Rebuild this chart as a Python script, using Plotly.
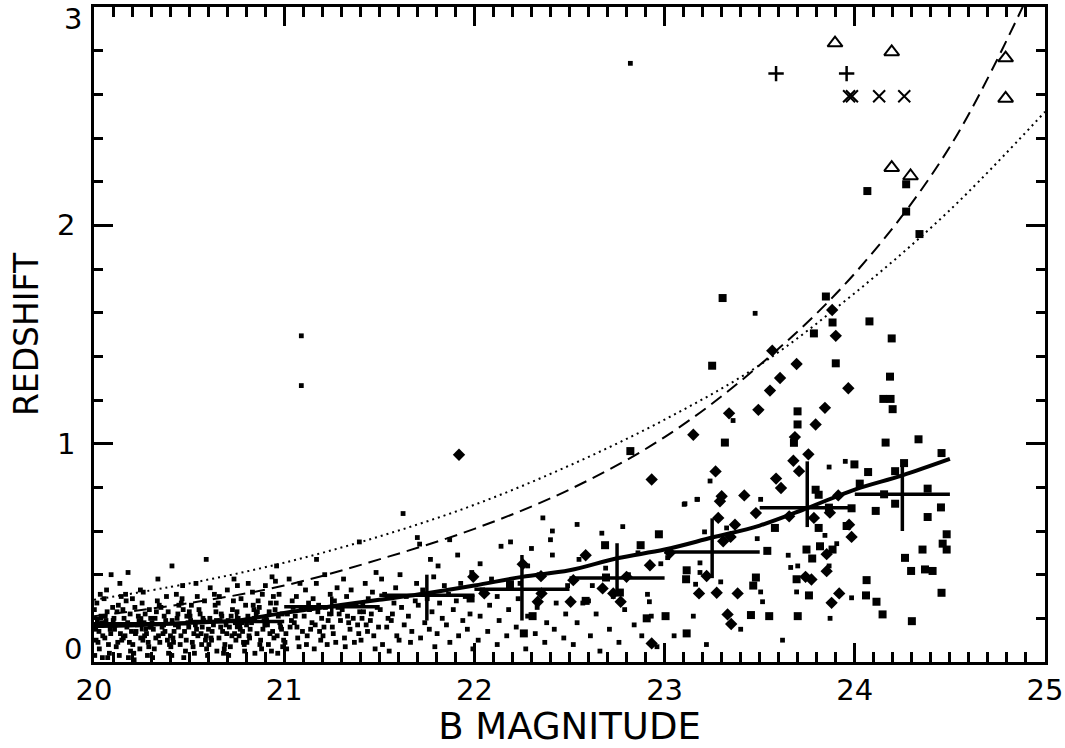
import plotly.graph_objects as go

# ---------------- data ----------------
# small dots: bright part 20-21 mag
dots_bright = [
(20.004,0.03),(20.021,0.09),(20.009,0.15),(20.037,0.21),(20.015,0.27),(20.046,0.12),(20.028,0.06),(20.041,0.18),(20.002,0.24),(20.033,0.31),(20.018,0.19),(20.044,0.02),(20.011,0.10),(20.026,0.14),
(20.081,0.04),(20.057,0.11),(20.094,0.17),(20.069,0.23),(20.076,0.08),(20.053,0.29),(20.088,0.13),(20.063,0.19),(20.098,0.25),(20.072,0.02),(20.059,0.21),(20.085,0.15),(20.066,0.33),
(20.117,0.07),(20.139,0.13),(20.105,0.20),(20.128,0.26),(20.146,0.10),(20.112,0.17),(20.133,0.03),(20.121,0.23),(20.108,0.15),(20.143,0.30),(20.125,0.09),(20.101,0.19),(20.136,0.36),
(20.192,0.05),(20.163,0.12),(20.177,0.18),(20.152,0.24),(20.186,0.09),(20.169,0.28),(20.197,0.14),(20.158,0.20),(20.181,0.02),(20.173,0.16),(20.190,0.22),(20.166,0.31),(20.154,0.11),(20.179,0.41),
(20.204,0.08),(20.221,0.14),(20.209,0.04),(20.237,0.19),(20.215,0.25),(20.246,0.11),(20.228,0.17),(20.241,0.06),(20.202,0.29),(20.233,0.21),(20.218,0.13),(20.244,0.33),(20.211,0.01),
(20.281,0.03),(20.257,0.10),(20.294,0.16),(20.269,0.22),(20.276,0.13),(20.253,0.27),(20.288,0.07),(20.263,0.18),(20.298,0.20),(20.272,0.15),(20.259,0.32),(20.285,0.09),(20.266,0.12),(20.291,0.24),
(20.317,0.06),(20.339,0.12),(20.305,0.18),(20.328,0.23),(20.346,0.09),(20.312,0.15),(20.333,0.28),(20.321,0.20),(20.308,0.02),(20.343,0.26),(20.325,0.11),(20.301,0.16),(20.336,0.38),
(20.392,0.04),(20.363,0.13),(20.377,0.19),(20.352,0.25),(20.386,0.10),(20.369,0.21),(20.397,0.08),(20.358,0.16),(20.381,0.30),(20.373,0.14),(20.390,0.23),(20.366,0.17),(20.410,0.44),
(20.404,0.07),(20.421,0.14),(20.409,0.03),(20.437,0.20),(20.415,0.11),(20.446,0.26),(20.428,0.17),(20.441,0.22),(20.402,0.12),(20.433,0.31),(20.418,0.09),(20.444,0.16),(20.411,0.19),
(20.481,0.05),(20.457,0.12),(20.494,0.18),(20.469,0.24),(20.476,0.14),(20.453,0.08),(20.488,0.21),(20.463,0.29),(20.498,0.16),(20.472,0.02),(20.459,0.27),(20.485,0.10),(20.466,0.35),
(20.517,0.09),(20.539,0.15),(20.505,0.21),(20.528,0.04),(20.546,0.12),(20.512,0.26),(20.533,0.17),(20.521,0.07),(20.508,0.19),(20.543,0.30),(20.525,0.13),(20.501,0.23),(20.536,0.36),
(20.592,0.06),(20.563,0.13),(20.577,0.19),(20.552,0.24),(20.586,0.10),(20.569,0.16),(20.597,0.03),(20.558,0.22),(20.581,0.28),(20.573,0.20),(20.590,0.12),(20.590,0.47),(20.566,0.08),
(20.604,0.08),(20.621,0.14),(20.609,0.20),(20.637,0.26),(20.615,0.11),(20.646,0.05),(20.628,0.17),(20.641,0.23),(20.602,0.15),(20.633,0.31),(20.618,0.10),(20.644,0.19),(20.611,0.34),
(20.681,0.04),(20.657,0.11),(20.694,0.17),(20.669,0.22),(20.676,0.14),(20.653,0.27),(20.688,0.08),(20.663,0.19),(20.698,0.13),(20.672,0.21),(20.659,0.30),(20.685,0.06),(20.666,0.16),
(20.717,0.07),(20.739,0.13),(20.705,0.19),(20.728,0.24),(20.746,0.10),(20.712,0.16),(20.733,0.28),(20.721,0.21),(20.708,0.03),(20.743,0.18),(20.725,0.12),(20.701,0.33),(20.736,0.38),
(20.792,0.05),(20.763,0.12),(20.777,0.18),(20.752,0.23),(20.786,0.09),(20.769,0.15),(20.797,0.26),(20.758,0.20),(20.781,0.14),(20.773,0.29),(20.790,0.08),(20.766,0.17),(20.754,0.35),
(20.804,0.09),(20.821,0.15),(20.809,0.21),(20.837,0.26),(20.815,0.12),(20.846,0.04),(20.828,0.18),(20.841,0.24),(20.802,0.17),(20.833,0.32),(20.818,0.11),(20.844,0.20),(20.811,0.36),
(20.881,0.06),(20.857,0.13),(20.894,0.19),(20.869,0.25),(20.876,0.10),(20.853,0.22),(20.888,0.15),(20.863,0.28),(20.898,0.17),(20.872,0.08),(20.859,0.23),(20.885,0.31),(20.960,0.44),
(20.917,0.08),(20.939,0.14),(20.905,0.20),(20.928,0.27),(20.946,0.11),(20.912,0.17),(20.933,0.05),(20.921,0.23),(20.908,0.19),(20.943,0.30),(20.925,0.13),(20.901,0.35),(20.936,0.39),
(20.992,0.07),(20.963,0.12),(20.977,0.18),(20.952,0.24),(20.986,0.15),(20.969,0.21),(20.997,0.10),(20.958,0.27),(20.981,0.16),(20.973,0.31),(20.990,0.22),(20.966,0.04),(20.954,0.37),
(20.090,0.40),
]

# small dots: 21-22 mag
dots_mid = [
(21.004,0.09),(21.031,0.16),(21.017,0.22),(21.042,0.28),(21.009,0.13),(21.026,0.38),(21.038,0.19),(21.013,0.06),(21.047,0.25),
(21.071,0.11),(21.053,0.18),(21.089,0.24),(21.064,0.30),(21.096,0.14),(21.078,0.07),(21.058,0.21),(21.083,0.36),(21.067,0.16),
(21.117,0.08),(21.139,0.15),(21.105,0.21),(21.128,0.27),(21.146,0.18),(21.112,0.33),(21.133,0.24),(21.121,0.12),(21.170,0.47),
(21.192,0.10),(21.163,0.17),(21.177,0.23),(21.152,0.29),(21.186,0.14),(21.169,0.36),(21.197,0.20),(21.158,0.06),(21.181,0.26),
(21.204,0.12),(21.231,0.19),(21.217,0.25),(21.242,0.31),(21.209,0.16),(21.226,0.08),(21.238,0.22),(21.213,0.40),
(21.271,0.09),(21.253,0.16),(21.289,0.22),(21.264,0.28),(21.296,0.19),(21.278,0.34),(21.258,0.13),(21.283,0.25),
(21.317,0.11),(21.339,0.18),(21.305,0.24),(21.328,0.30),(21.346,0.15),(21.312,0.38),(21.333,0.21),(21.321,0.07),
(21.392,0.13),(21.363,0.20),(21.377,0.26),(21.352,0.33),(21.386,0.17),(21.369,0.09),(21.397,0.23),(21.395,0.55),
(21.404,0.10),(21.431,0.17),(21.417,0.23),(21.442,0.29),(21.409,0.20),(21.426,0.36),(21.438,0.14),(21.413,0.26),
(21.471,0.12),(21.453,0.19),(21.489,0.25),(21.464,0.32),(21.496,0.16),(21.478,0.06),(21.458,0.22),(21.483,0.41),
(21.517,0.08),(21.539,0.16),(21.505,0.24),(21.528,0.31),(21.546,0.20),(21.512,0.38),
(21.592,0.12),(21.563,0.19),(21.577,0.27),(21.552,0.05),(21.586,0.34),(21.569,0.22),
(21.604,0.10),(21.631,0.17),(21.617,0.25),(21.642,0.30),(21.609,0.40),(21.625,0.68),
(21.671,0.14),(21.653,0.21),(21.689,0.28),(21.664,0.09),(21.696,0.36),(21.700,0.57),
(21.717,0.11),(21.739,0.18),(21.705,0.26),(21.728,0.33),(21.712,0.54),
(21.792,0.07),(21.763,0.15),(21.777,0.23),(21.752,0.29),(21.786,0.39),(21.769,0.47),
(21.804,0.13),(21.831,0.20),(21.817,0.27),(21.842,0.35),(21.809,0.44),
(21.871,0.09),(21.853,0.17),(21.889,0.24),(21.864,0.31),(21.870,0.56),
(21.917,0.12),(21.939,0.19),(21.905,0.28),(21.928,0.36),(21.912,0.49),
(21.992,0.06),(21.963,0.15),(21.977,0.22),(21.952,0.30),(21.986,0.41),
]

# small dots: faint part 22-24.5 mag
dots_faint = [
(22.02,0.10),(22.03,0.21),(22.04,0.33),(22.03,0.45),(22.07,0.14),(22.08,0.26),(22.09,0.38),
(22.12,0.08),(22.13,0.19),(22.14,0.53),(22.12,0.30),(22.17,0.12),(22.18,0.24),(22.19,0.55),
(22.22,0.16),(22.23,0.29),(22.24,0.36),(22.27,0.06),(22.28,0.21),(22.30,0.52),(22.28,0.44),
(22.32,0.13),(22.33,0.25),(22.34,0.40),(22.37,0.09),(22.38,0.18),(22.36,0.66),(22.41,0.60),
(22.40,0.56),(22.42,0.15),(22.43,0.27),(22.41,0.49),(22.47,0.11),(22.48,0.22),(22.49,0.35),
(22.52,0.08),(22.54,0.18),(22.55,0.47),(22.57,0.27),(22.54,0.63),(22.61,0.12),(22.62,0.35),
(22.64,0.22),(22.66,0.05),(22.67,0.59),(22.69,0.43),(22.71,0.15),(22.73,0.30),(22.76,0.09),
(22.78,0.62),(22.79,0.24),(22.81,0.40),(22.84,0.17),(22.86,0.50),(22.88,0.12),(22.91,0.31),
(22.93,0.21),(22.96,0.07),(22.98,0.45),(22.60,0.28),
(23.36,1.106),(23.865,0.893),(23.95,0.919),(23.239,0.829),(23.173,0.745),(23.103,0.722),
(23.505,0.745),(23.21,0.596),(23.326,0.614),(23.487,0.565),(23.843,0.58),(23.905,0.542),
(23.016,0.478),(23.186,0.454),(23.186,0.41),(23.65,0.489),(23.663,0.433),(23.70,0.44),
(23.865,0.44),(23.983,0.294),(23.295,0.367),(23.163,0.356),(23.505,0.321),(23.694,0.321),
(23.515,0.276),(23.87,0.20),(22.92,0.276),(23.151,0.21),(23.107,0.725),(23.17,0.745),
(23.05,0.12),(23.22,0.08),(23.40,0.15),(23.62,0.10),
]

# isolated small dots far above the cloud
dots_outliers = [(22.82,2.742),(21.09,1.494),(21.09,1.266),(23.476,1.597)]

# filled squares
squares = [
(23.305,1.667),(23.848,1.674),(23.883,1.555),(24.077,1.56),(23.785,1.505),(24.194,1.482),
(23.90,1.368),(23.25,1.357),(24.185,1.307),(24.15,1.205),(24.188,1.205),(24.199,1.158),
(23.699,1.148),(23.699,1.088),(23.68,1.004),(23.317,1.005),(24.162,1.005),(24.335,1.02),
(24.456,0.957),(24.259,0.911),(23.998,0.905),(24.07,0.87),(24.212,0.874),(24.026,0.817),
(23.794,0.789),(23.81,0.766),(24.154,0.768),(24.383,0.794),(23.983,0.704),(23.864,0.707),
(24.11,0.692),(24.212,0.725),(24.453,0.708),(24.383,0.664),(23.58,0.614),(23.81,0.614),
(23.957,0.623),(22.97,0.585),(23.54,0.509),(23.746,0.515),(23.776,0.474),(23.817,0.53),
(23.883,0.515),(24.483,0.585),(24.462,0.542),(24.483,0.515),(24.356,0.515),(24.264,0.477),
(24.296,0.417),(24.369,0.424),(24.409,0.417),(23.116,0.42),(23.113,0.379),(23.48,0.387),
(23.466,0.35),(23.694,0.379),(24.062,0.375),(23.759,0.305),(24.059,0.305),(24.114,0.276),
(24.456,0.317),(24.146,0.218),(23.005,0.21),(23.454,0.215),(23.55,0.21),(23.70,0.21),
(24.066,2.157),(24.27,2.188),(24.27,2.063),(24.34,1.96),
(22.82,0.966),(22.687,0.535),(22.874,0.535),(22.187,0.356),(22.692,0.387),(22.765,0.318),
(22.585,0.28),(21.98,0.291),(22.306,0.21),(22.906,0.20),(22.26,0.131),(23.116,0.131),
(24.30,0.187),
]

# filled diamonds
diamonds = [
(23.881,1.612),(23.90,1.494),(23.566,1.426),(23.694,1.365),(23.607,1.301),(23.554,1.243),
(23.966,1.254),(23.843,1.164),(23.493,1.155),(23.339,1.139),(23.794,1.088),(23.151,1.041),
(23.685,1.03),(23.756,0.951),(23.677,0.922),(23.707,0.874),(23.268,0.873),(22.932,0.836),
(23.586,0.84),(23.612,0.797),(23.419,0.763),(23.30,0.759),(23.291,0.736),(23.913,0.763),
(23.48,0.682),(23.655,0.667),(23.785,0.66),(23.869,0.684),(23.282,0.66),(23.37,0.629),
(23.97,0.629),(23.983,0.573),(23.347,0.573),(23.308,0.553),(23.028,0.50),(22.923,0.443),
(23.852,0.494),(23.852,0.416),(23.221,0.394),(23.741,0.39),(23.772,0.378),(23.181,0.314),
(23.274,0.317),(23.384,0.314),(23.918,0.314),(23.878,0.271),(23.331,0.218),
(21.919,0.949),(22.585,0.489),(22.254,0.448),(21.994,0.39),(22.35,0.393),(22.52,0.375),
(22.80,0.39),(22.052,0.314),(22.353,0.314),(22.674,0.337),(22.73,0.314),(22.769,0.276),
(22.506,0.276),(22.333,0.276),(22.932,0.085),(23.35,0.174),
]

# open triangles, crosses and plus signs
triangles = [(23.896,2.835),(24.194,2.794),(24.793,2.766),(24.793,2.581),(24.194,2.264),(24.293,2.226)]
crosses = [(23.970,2.591),(23.985,2.591),(24.128,2.591),(24.26,2.591)]
pluses = [(23.586,2.695),(23.957,2.695)]

# thick mean curve
mean_mag = [20.0, 20.25, 20.5, 20.75, 21.0, 21.25, 21.5, 21.75, 22.0, 22.25, 22.5, 22.75, 23.0, 23.25, 23.5, 23.75, 24.0, 24.25, 24.5]
mean_z   = [0.165, 0.17, 0.18, 0.19, 0.225, 0.255, 0.285, 0.315, 0.35, 0.39, 0.42, 0.475, 0.515, 0.57, 0.625, 0.705, 0.79, 0.855, 0.93]

# binned means with error bars
bin_mag = [20.25, 20.75, 21.25, 21.75, 22.25, 22.75, 23.25, 23.75, 24.25]
bin_z   = [0.175, 0.185, 0.253, 0.306, 0.333, 0.385, 0.504, 0.707, 0.768]
bin_hi  = [0.21, 0.22, 0.30, 0.40, 0.49, 0.544, 0.658, 0.919, 0.90]
bin_lo  = [0.14, 0.15, 0.21, 0.19, 0.19, 0.315, 0.384, 0.618, 0.60]
bin_halfwidth = 0.25

# model curves
dash_mag = [20.0, 20.5, 21.0, 21.5, 22.0, 22.5, 23.0, 23.5, 24.0, 24.5, 25.0]
dash_z   = [0.21, 0.27, 0.35, 0.47, 0.61, 0.79, 1.03, 1.36, 1.78, 2.36, 3.22]
dot_mag  = [20.0, 20.5, 21.0, 21.5, 22.0, 22.5, 23.0, 23.5, 24.0, 24.5, 25.0]
dot_z    = [0.285, 0.36, 0.455, 0.575, 0.72, 0.90, 1.11, 1.36, 1.69, 2.07, 2.52]

# axis ticks
x_major = [20, 21, 22, 23, 24, 25]
x_minor_step = 0.1
y_major_labelled = [1, 2]
y_minor_step = 0.2

# ---------------- figure ----------------
def xs(pts):
    return [p[0] for p in pts]

def ys(pts):
    return [p[1] for p in pts]

x_minor = [round(20 + x_minor_step * i, 1) for i in range(1, 50) if i % 10]
y_minor = [round(y_minor_step * i, 1) for i in range(1, 15) if i % 5]

BLACK = "black"
fig = go.Figure()

small = dots_bright + dots_mid + dots_faint + dots_outliers
fig.add_trace(go.Scatter(x=xs(small), y=ys(small), mode="markers",
                         marker=dict(symbol="square", size=4.8, color=BLACK, line=dict(width=0))))
fig.add_trace(go.Scatter(x=xs(squares), y=ys(squares), mode="markers",
                         marker=dict(symbol="square", size=8, color=BLACK, line=dict(width=0))))
fig.add_trace(go.Scatter(x=xs(diamonds), y=ys(diamonds), mode="markers",
                         marker=dict(symbol="diamond", size=9.5, color=BLACK, line=dict(width=0))))
fig.add_trace(go.Scatter(x=xs(triangles), y=ys(triangles), mode="markers",
                         marker=dict(symbol="triangle-up-open", size=13, color=BLACK, line=dict(width=2, color=BLACK))))
fig.add_trace(go.Scatter(x=xs(crosses), y=ys(crosses), mode="markers",
                         marker=dict(symbol="x-thin", size=12, color=BLACK, line=dict(width=2, color=BLACK))))
fig.add_trace(go.Scatter(x=xs(pluses), y=ys(pluses), mode="markers",
                         marker=dict(symbol="cross-thin", size=11, color=BLACK, line=dict(width=2.5, color=BLACK))))

fig.add_trace(go.Scatter(x=dot_mag, y=dot_z, mode="lines", line=dict(color=BLACK, width=2, dash="2px,4px", shape="spline")))
fig.add_trace(go.Scatter(x=dash_mag, y=dash_z, mode="lines", line=dict(color=BLACK, width=2, dash="13px,7px", shape="spline")))
fig.add_trace(go.Scatter(x=mean_mag, y=mean_z, mode="lines", line=dict(color=BLACK, width=4, shape="spline")))

fig.add_trace(go.Scatter(
    x=bin_mag, y=bin_z, mode="markers", marker=dict(size=1, color=BLACK),
    error_x=dict(type="constant", value=bin_halfwidth, width=0, thickness=3.5, color=BLACK),
    error_y=dict(type="data", symmetric=False,
                 array=[h - z for h, z in zip(bin_hi, bin_z)],
                 arrayminus=[z - l for z, l in zip(bin_z, bin_lo)],
                 width=0, thickness=3.5, color=BLACK)))

FONT = "DejaVu Sans, Liberation Sans, Arial, sans-serif"
axis_common = dict(showgrid=False, zeroline=False, showline=True, linewidth=2.5, linecolor=BLACK,
                   mirror="allticks", ticks="inside", ticklen=19, tickwidth=2.5, tickcolor=BLACK,
                   automargin=False, tickfont=dict(family=FONT, size=29, color=BLACK))

fig.update_layout(
    width=1065, height=748,
    margin=dict(l=94, r=20, t=7, b=86),
    paper_bgcolor="white", plot_bgcolor="white",
    showlegend=False,
    font=dict(family=FONT, color=BLACK),
    xaxis=dict(range=[20, 25], tickmode="array", tickvals=x_major, ticktext=[str(v) for v in x_major],
               minor=dict(tickmode="array", tickvals=x_minor, ticklen=10, tickwidth=2.5, ticks="inside",
                          tickcolor=BLACK, showgrid=False),
               title=dict(text="B MAGNITUDE", font=dict(family=FONT, size=37, color=BLACK), standoff=14),
               **axis_common),
    yaxis=dict(range=[0, 3], tickmode="array", tickvals=y_major_labelled, ticktext=[str(v) for v in y_major_labelled],
               minor=dict(tickmode="array", tickvals=y_minor, ticklen=9, tickwidth=2.5, ticks="inside",
                          tickcolor=BLACK, showgrid=False),
               title=dict(text="REDSHIFT", font=dict(family=FONT, size=33, color=BLACK), standoff=9),
               ticklabelstandoff=10, **axis_common),
)

# end labels of the y axis, nudged inward like the reference
for val, zpos in (("0", 0.06), ("3", 2.945)):
    fig.add_annotation(x=0, xref="paper", y=zpos, yref="y", text=val, showarrow=False,
                       xanchor="right", yanchor="middle", xshift=-10,
                       font=dict(family=FONT, size=29, color=BLACK))

fig.write_html("out.html", config={"displayModeBar": False},
               post_script="document.body.style.margin='0px';document.body.style.overflow='hidden';")
